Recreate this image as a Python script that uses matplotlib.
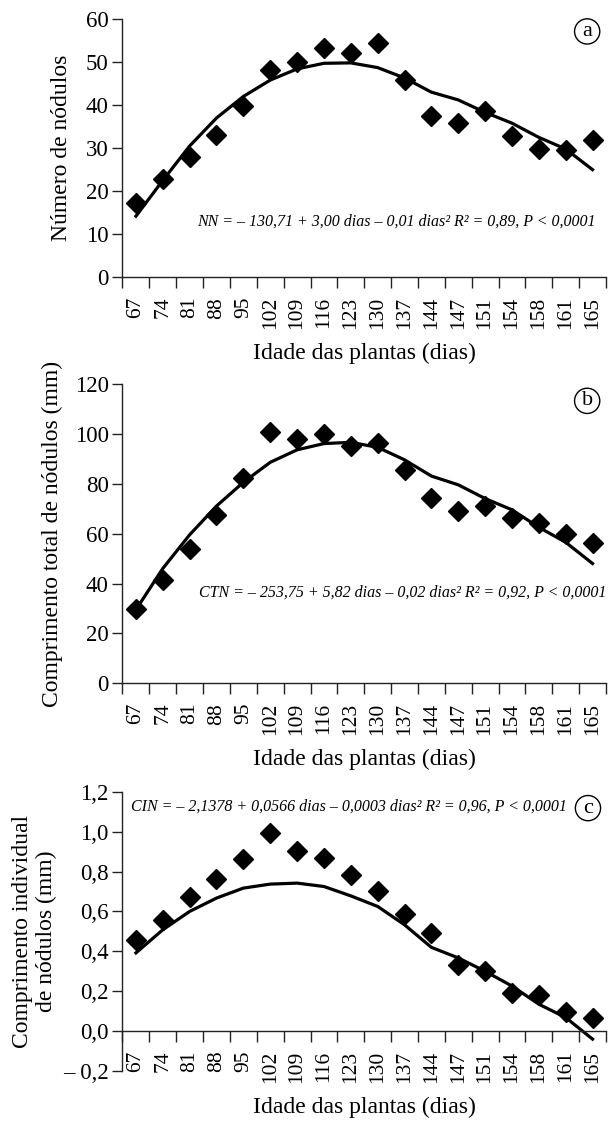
import numpy as np
import matplotlib
matplotlib.use("Agg")
import matplotlib.pyplot as plt
from matplotlib.ticker import FixedLocator

plt.rcParams['font.family'] = ['Liberation Serif', 'DejaVu Serif']

# --- data ---
days = ['67', '74', '81', '88', '95', '102', '109', '116', '123',
        '130', '137', '144', '147', '151', '154', '158', '161', '165']

nn_obs = [17.2, 22.8, 27.9, 33.1, 39.8, 48.2, 50.0, 53.2, 52.2,
          54.3, 45.8, 37.5, 35.8, 38.6, 32.8, 29.9, 29.6, 31.8]
nn_fit = [14.2, 22.5, 30.5, 37.0, 42.0, 45.8, 48.4, 49.7, 49.8,
          48.7, 46.3, 43.0, 41.2, 38.3, 35.8, 32.5, 29.8, 25.0]

ctn_obs = [29.7, 41.3, 53.9, 67.3, 82.3, 100.8, 98.0, 100.0, 95.2,
           96.1, 85.5, 74.1, 69.0, 71.0, 66.4, 64.3, 60.0, 56.3]
ctn_fit = [29.5, 46.0, 59.5, 71.0, 80.5, 88.5, 93.5, 96.0, 96.5,
           94.5, 89.5, 83.0, 79.5, 74.0, 69.5, 62.5, 56.5, 48.0]

cin_obs = [0.455, 0.555, 0.670, 0.763, 0.862, 0.995, 0.903, 0.867, 0.782,
           0.700, 0.588, 0.492, 0.329, 0.302, 0.193, 0.181, 0.098, 0.068]
cin_fit = [0.392, 0.508, 0.600, 0.667, 0.717, 0.737, 0.742, 0.725, 0.678,
           0.625, 0.533, 0.420, 0.367, 0.300, 0.226, 0.135, 0.068, -0.040]

eq_a = "NN = – 130,71 + 3,00 dias – 0,01 dias² R² = 0,89, P < 0,0001"
eq_b = "CTN = – 253,75 + 5,82 dias – 0,02 dias² R² = 0,92, P < 0,0001"
eq_c = "CIN = – 2,1378 + 0,0566 dias – 0,0003 dias² R² = 0,96, P < 0,0001"

yt_a = [0, 10, 20, 30, 40, 50, 60]
yt_b = [0, 20, 40, 60, 80, 100, 120]
yt_c = [-0.2, 0.0, 0.2, 0.4, 0.6, 0.8, 1.0, 1.2]
yl_c = ['– 0,2', '0,0', '0,2', '0,4', '0,6', '0,8', '1,0', '1,2']

fig = plt.figure(figsize=(6.10, 11.21), dpi=100)
ax_a = fig.add_axes([0.2008, 0.7526, 0.7926, 0.2305])
ax_b = fig.add_axes([0.2008, 0.3903, 0.7926, 0.2675])
ax_c = fig.add_axes([0.2008, 0.0446, 0.7926, 0.2491])

# panel c: x axis crosses at y = 0 (set before ticks, it resets them)
ax_c.spines['bottom'].set_position(('data', 0))

x = np.arange(len(days))
spine_col = '#222222'


def style(ax, obs, fit, yticks, ylabels, ylim, ylabel, ylpad,
          eq, eq_xy, eq_ha, letter, let_xy):
    ax.plot(x, fit, color='black', lw=2.3, zorder=2)
    ax.plot(x, obs, ls='none', marker='D', ms=10, color='black', zorder=3)
    ax.set_xlim(-0.5, len(days) - 0.5)
    ax.set_ylim(*ylim)
    for s in ['top', 'right']:
        ax.spines[s].set_visible(False)
    for s in ['left', 'bottom']:
        ax.spines[s].set_color(spine_col)
        ax.spines[s].set_linewidth(1.0)
    ax.set_yticks(yticks)
    ax.set_yticklabels(ylabels)
    ax.tick_params(axis='y', direction='out', length=7, width=1.0,
                   color=spine_col, labelsize=16.5, pad=3)
    ax.set_xticks(x)
    ax.set_xticklabels(days, rotation=90)
    ax.xaxis.set_minor_locator(FixedLocator(np.arange(-0.5, len(days), 1.0)))
    ax.tick_params(axis='x', which='major', length=0, labelsize=15.5, pad=14)
    ax.tick_params(axis='x', which='minor', direction='out', length=8,
                   width=1.0, color=spine_col)
    ax.set_xlabel("Idade das plantas (dias)", fontsize=17, labelpad=10)
    ax.set_ylabel(ylabel, fontsize=17, labelpad=ylpad)
    ax.text(eq_xy[0], eq_xy[1], eq, fontsize=11.5, style='italic',
            ha=eq_ha, va='center')
    ax.text(let_xy[0], let_xy[1], letter, fontsize=16, ha='center', va='center',
            bbox=dict(boxstyle='circle,pad=0.14', fc='white', ec='black', lw=1.0))


style(ax_a, nn_obs, nn_fit, yt_a, [str(v) for v in yt_a], (0, 60),
      "Número de nódulos", 10, eq_a, (17.1, 13), 'right', 'a', (16.8, 57.1))
style(ax_b, ctn_obs, ctn_fit, yt_b, [str(v) for v in yt_b], (0, 120),
      "Comprimento total de nódulos (mm)", 8, eq_b, (17.5, 36.3), 'right',
      'b', (16.8, 113.1))
style(ax_c, cin_obs, cin_fit, yt_c, yl_c, (-0.2, 1.2),
      "Comprimento individual\nde nódulos (mm)", 4, eq_c, (-0.2, 1.125), 'left',
      'c', (16.83, 1.118))

fig.savefig("out.png", dpi=100)
